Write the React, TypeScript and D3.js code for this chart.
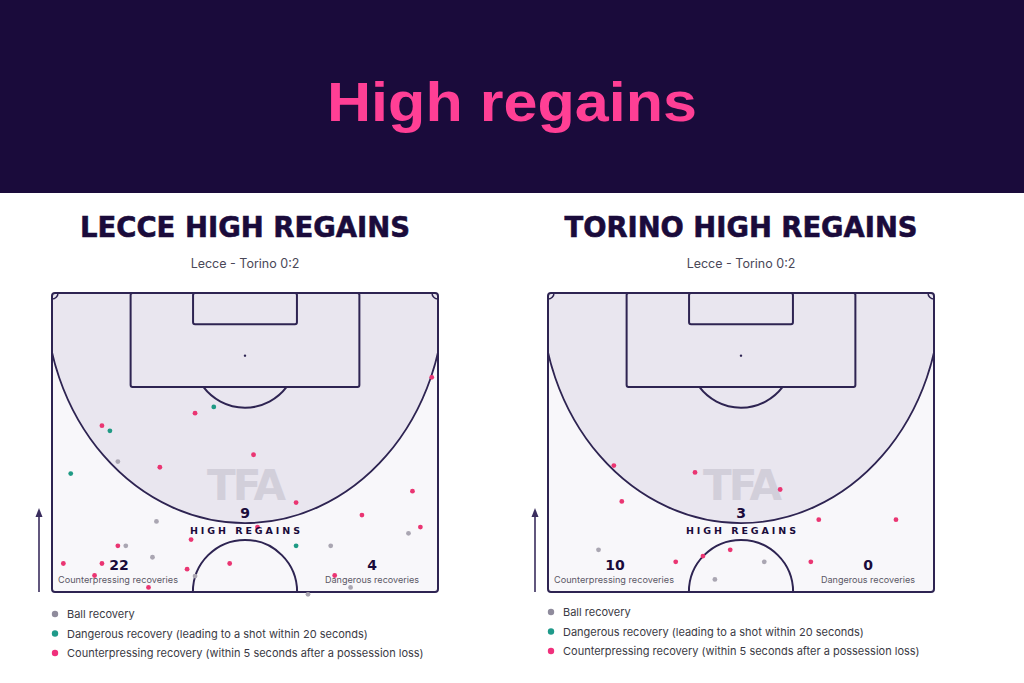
import * as d3 from "d3";

// --- data (metres: x across the pitch 0..68, y from the goal line 0..52.5) ---

type Kind = "ball" | "danger" | "counter";
type Regain = [number, number, Kind];

const LECCE_REGAINS: Regain[] = [
  [66.9, 14.8, "counter"], [28.5, 20.0, "danger"], [25.2, 21.1, "counter"],
  [8.8, 23.3, "counter"], [10.2, 24.2, "danger"], [11.6, 29.6, "ball"],
  [19.0, 30.6, "counter"], [35.5, 28.4, "counter"], [3.3, 31.7, "danger"],
  [63.5, 34.8, "counter"], [43.0, 36.8, "counter"], [54.6, 39.0, "counter"],
  [18.4, 40.1, "ball"], [64.9, 41.1, "counter"], [62.8, 42.2, "ball"],
  [36.2, 41.1, "counter"], [24.5, 43.3, "counter"], [11.6, 44.4, "counter"],
  [13.0, 44.4, "ball"], [43.0, 44.4, "danger"], [49.1, 44.4, "ball"],
  [17.7, 46.4, "ball"], [2.0, 47.5, "counter"], [8.8, 47.5, "counter"],
  [31.3, 47.5, "counter"], [23.8, 48.5, "counter"], [7.5, 49.6, "counter"],
  [49.8, 49.6, "counter"], [17.0, 51.7, "counter"], [52.6, 51.7, "ball"],
  [45.1, 52.9, "ball"], [25.2, 49.7, "ball"],
];

const TORINO_REGAINS: Regain[] = [
  [11.6, 30.3, "counter"], [25.9, 31.5, "counter"], [40.9, 34.5, "counter"],
  [13.0, 36.6, "counter"], [47.7, 39.8, "counter"], [61.3, 39.8, "counter"],
  [8.9, 45.1, "ball"], [32.1, 45.1, "counter"], [27.3, 46.2, "counter"],
  [22.5, 47.2, "counter"], [38.1, 47.2, "ball"], [46.3, 47.2, "counter"],
  [29.4, 50.3, "ball"],
];

const TEAMS = ["LECCE", "TORINO"];
const MATCH = "Lecce - Torino 0:2";
const HIGH_REGAINS = [9, 3];
const COUNTER_TOTALS = [22, 10];
const DANGER_TOTALS = [4, 0];
const LEGEND_LABELS = [
  "Ball recovery",
  "Dangerous recovery (leading to a shot within 20 seconds)",
  "Counterpressing recovery (within 5 seconds after a possession loss)",
];

// --- style ---

const W = 1024;
const H = 683;
const NAVY = "#1a0b3b";
const LINE = "#2e2452";
const PINK = "#ff3f95";
const DOT: Record<Kind, string> = { ball: "#aaa6b2", danger: "#1f9a84", counter: "#ea3572" };
const LEGEND_DOT = ["#8f8b9c", "#1f9a8a", "#f0307c"];

const PITCH = { w: 386, h: 299, top: 293, lefts: [52, 548] };
const ZONE = { rx: 35.2, ry: 40.4 }; // high regain zone around the goal (m)

function Pitch({ idx }: { idx: number }) {
  const left = PITCH.lefts[idx];
  const x = d3.scaleLinear().domain([0, 68]).range([left, left + PITCH.w]);
  const y = d3.scaleLinear().domain([0, 52.5]).range([PITCH.top, PITCH.top + PITCH.h]);
  const cx = x(34);
  const regains = idx === 0 ? LECCE_REGAINS : TORINO_REGAINS;
  const clipId = `clip-${idx}`;
  const sw = 2;

  // penalty arc: part of the 9.15 m circle outside the box
  const penR = y(9.15) - y(0);
  const theta = Math.acos((y(16.5) - y(11)) / penR);
  const arcPen = d3.arc()({
    innerRadius: penR,
    outerRadius: penR,
    startAngle: Math.PI - theta,
    endAngle: Math.PI + theta,
  });
  const cr = 6;
  const x0 = x(0);
  const x1 = x(68);
  const y0 = y(0);

  return (
    <g>
      <defs>
        <clipPath id={clipId}>
          <rect x={x0} y={y0} width={PITCH.w} height={PITCH.h} rx={3} />
        </clipPath>
      </defs>
      <rect x={x0} y={y0} width={PITCH.w} height={PITCH.h} rx={3} fill="#f8f7fa" />
      <g clipPath={`url(#${clipId})`}>
        <ellipse
          cx={cx}
          cy={y0}
          rx={x(34 + ZONE.rx) - cx}
          ry={y(ZONE.ry) - y0}
          fill="#e9e6ef"
          stroke={LINE}
          strokeWidth={1.8}
        />
        <circle cx={cx} cy={y(52.5)} r={penR} fill="#f8f7fa" stroke={LINE} strokeWidth={sw} />
      </g>
      <path d={arcPen ?? ""} transform={`translate(${cx},${y(11)})`} fill="none" stroke={LINE} strokeWidth={sw} />
      <rect x={x(13.85)} y={y0} width={x(54.15) - x(13.85)} height={y(16.5) - y0} rx={2} fill="none" stroke={LINE} strokeWidth={sw} />
      <rect x={x(24.85)} y={y0} width={x(43.15) - x(24.85)} height={y(5.5) - y0} rx={2} fill="none" stroke={LINE} strokeWidth={sw} />
      <circle cx={cx} cy={y(11)} r={1.2} fill={LINE} />
      <path d={`M${x0 + cr},${y0} A${cr},${cr} 0 0 1 ${x0},${y0 + cr}`} fill="none" stroke={LINE} strokeWidth={1.5} />
      <path d={`M${x1 - cr},${y0} A${cr},${cr} 0 0 0 ${x1},${y0 + cr}`} fill="none" stroke={LINE} strokeWidth={1.5} />
      <rect x={x0} y={y0} width={PITCH.w} height={PITCH.h} rx={3} fill="none" stroke={LINE} strokeWidth={sw} />

      <text x={cx} y={y0 + 207} textAnchor="middle" fontFamily="DejaVu Sans" fontWeight="bold" fontSize={42} fill="#cfcbd7" opacity={0.85} letterSpacing={-3}>TFA</text>

      {regains.map(([mx, my, k], i) => (
        <circle key={i} cx={x(mx)} cy={y(my)} r={2.4} fill={DOT[k]} />
      ))}

      <text x={cx} y={y0 + 225} textAnchor="middle" fontFamily="DejaVu Sans" fontWeight="bold" fontSize={14} fill={NAVY}>{HIGH_REGAINS[idx]}</text>
      <text x={cx} y={y0 + 241} textAnchor="middle" fontFamily="DejaVu Sans" fontWeight="bold" fontSize={9.5} fill={NAVY} textLength={110} lengthAdjust="spacing">HIGH REGAINS</text>
      <text x={left + 67} y={y0 + 277} textAnchor="middle" fontFamily="DejaVu Sans" fontWeight="bold" fontSize={14} fill={NAVY}>{COUNTER_TOTALS[idx]}</text>
      <text x={left + 66} y={y0 + 290} textAnchor="middle" fontFamily="Inter" fontSize={9} fill="#5b5766" textLength={120} lengthAdjust="spacingAndGlyphs">Counterpressing recoveries</text>
      <text x={left + 320} y={y0 + 277} textAnchor="middle" fontFamily="DejaVu Sans" fontWeight="bold" fontSize={14} fill={NAVY}>{DANGER_TOTALS[idx]}</text>
      <text x={left + 320} y={y0 + 290} textAnchor="middle" fontFamily="Inter" fontSize={9} fill="#5b5766" textLength={94} lengthAdjust="spacingAndGlyphs">Dangerous recoveries</text>

      <line x1={left - 13} y1={y(52.5)} x2={left - 13} y2={y0 + 222} stroke="#3a2d5e" strokeWidth={1.6} />
      <path d={`M${left - 16.5},${y0 + 224} L${left - 13},${y0 + 215} L${left - 9.5},${y0 + 224} Z`} fill="#3a2d5e" />

      {LEGEND_LABELS.map((label, i) => (
        <g key={label}>
          <circle cx={left + 3} cy={y0 + 321 + i * 19.5 - idx * 2} r={3.2} fill={LEGEND_DOT[i]} />
          <text x={left + 15} y={y0 + 325 + i * 19.5 - idx * 2} fontFamily="Inter" fontSize={11} fill="#3a3a44">{label}</text>
        </g>
      ))}
    </g>
  );
}

export default function App() {
  return (
    <svg width={W} height={H} style={{ position: "absolute", left: 0, top: 0 }}>
      <rect width={W} height={H} fill="#ffffff" />
      <rect width={W} height={193} fill={NAVY} />
      <text x={W / 2} y={121} textAnchor="middle" fontFamily="Liberation Sans" fontWeight="bold" fontSize={56} fill={PINK} textLength={370} lengthAdjust="spacingAndGlyphs">High regains</text>
      {TEAMS.map((team, i) => {
        const cx = PITCH.lefts[i] + PITCH.w / 2;
        return (
          <g key={team}>
            <text x={cx} y={237} textAnchor="middle" fontFamily="DejaVu Sans" fontWeight="bold" fontSize={28} fill={NAVY} stroke={NAVY} strokeWidth={0.6} textLength={i === 0 ? 330 : 353} lengthAdjust="spacingAndGlyphs">{team} HIGH REGAINS</text>
            <text x={cx} y={268} textAnchor="middle" fontFamily="Inter" fontSize={12.5} fill="#4a4858">{MATCH}</text>
          </g>
        );
      })}
      <Pitch idx={0} />
      <Pitch idx={1} />
    </svg>
  );
}
